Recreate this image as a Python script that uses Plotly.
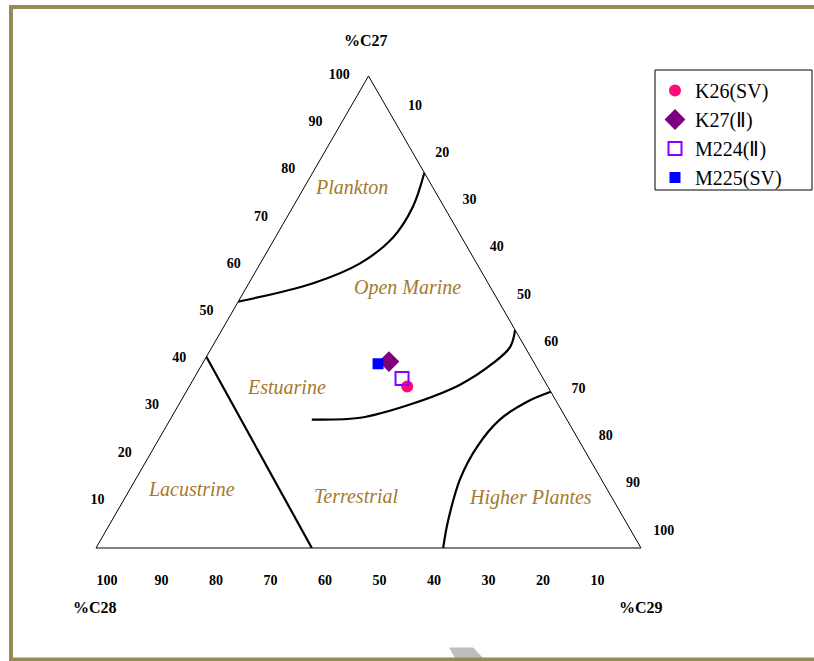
import plotly.graph_objects as go

# ---- data (ternary: a=%C27, b=%C28, c=%C29) ----
tick_values = [10, 20, 30, 40, 50, 60, 70, 80, 90, 100]

sample_names = ["K26(SV)", "K27(Ⅱ)", "M224(Ⅱ)", "M225(SV)"]
sample_c27 = [34.2, 39.5, 35.9, 39.0]
sample_c28 = [25.8, 26.5, 25.9, 28.7]
sample_c29 = [40.0, 34.0, 38.2, 32.2]

# boundary curves
plankton_c27 = [52.2, 56.1, 60.3, 65.8, 72.2, 79.5]
plankton_c28 = [47.8, 32.1, 21.4, 12.6, 5.8, 0.0]
plankton_c29 = [0.0, 11.8, 18.3, 21.6, 22.0, 20.5]

marine_c27 = [27.2, 27.6, 30.4, 34.6, 39.2, 42.6, 46.2]
marine_c28 = [46.8, 37.7, 27.2, 15.9, 7.5, 2.7, 0.0]
marine_c29 = [26.0, 34.7, 42.4, 49.5, 53.3, 54.7, 53.8]

higher_c27 = [0.0, 5.5, 14.6, 21.5, 27.2, 31.0, 33.1]
higher_c28 = [36.3, 32.7, 25.9, 19.3, 12.3, 5.4, 0.0]
higher_c29 = [63.7, 61.8, 59.5, 59.2, 60.5, 63.6, 66.9]

lacustrine_c27 = [40.5, 0.0]
lacustrine_c28 = [59.5, 60.4]
lacustrine_c29 = [0.0, 39.6]

W, H = 814, 661
SERIF = "Liberation Serif, Times New Roman, serif"
fig = go.Figure()

for ca, cb, cc in [(plankton_c27, plankton_c28, plankton_c29),
                   (marine_c27, marine_c28, marine_c29),
                   (higher_c27, higher_c28, higher_c29),
                   (lacustrine_c27, lacustrine_c28, lacustrine_c29)]:
    fig.add_trace(go.Scatterternary(
        a=ca, b=cb, c=cc, mode="lines",
        line=dict(color="black", width=2.2, shape="spline", smoothing=1.0),
        showlegend=False, hoverinfo="skip"))

styles = [
    dict(symbol="circle", size=12, color="#FF0A78", line=dict(width=0)),
    dict(symbol="diamond", size=16, color="#7F007F", line=dict(width=0)),
    dict(symbol="square-open", size=13, color="#8A00FF", line=dict(width=2)),
    dict(symbol="square", size=11, color="#0000FF", line=dict(width=0)),
]
for i, name in enumerate(sample_names):
    fig.add_trace(go.Scatterternary(
        a=[sample_c27[i]], b=[sample_c28[i]], c=[sample_c29[i]],
        mode="markers", name=name, marker=styles[i]))


def axis(ticklen):
    return dict(
        min=0, tickmode="array", tickvals=tick_values,
        ticktext=[str(v) for v in tick_values],
        showgrid=False, showline=True, linecolor="black", linewidth=1,
        ticks="outside", ticklen=ticklen, tickcolor="rgba(0,0,0,0)",
        title=dict(text=""),
        tickfont=dict(family=SERIF, size=14, color="black", weight="bold"),
    )


fig.update_layout(
    width=W, height=H,
    margin=dict(l=0, r=0, t=0, b=0),
    paper_bgcolor="white",
    ternary=dict(
        sum=100,
        bgcolor="white",
        domain=dict(x=[96 / W, 641 / W], y=[112 / H, 586 / H]),
        aaxis=axis(16), baxis=axis(22), caxis=axis(19),
    ),
    legend=dict(
        x=655 / W, y=1 - 71 / H, xanchor="left", yanchor="top",
        borderwidth=0, bgcolor="rgba(0,0,0,0)",
        font=dict(family=SERIF, size=20, color="black"),
        itemsizing="trace", tracegroupgap=0,
    ),
    showlegend=True,
)

# legend frame
fig.add_shape(type="rect", xref="paper", yref="paper",
              x0=655 / W, x1=812 / W, y0=1 - 190 / H, y1=1 - 70 / H,
              line=dict(color="black", width=1), fillcolor="white", layer="below")

title_font = dict(family=SERIF, size=16, color="black", weight="bold")
for txt, px, py in [("%C27", 366, 40), ("%C28", 95, 607), ("%C29", 641, 607)]:
    fig.add_annotation(text=txt, x=px / W, y=1 - py / H, xref="paper", yref="paper",
                       xanchor="center", yanchor="middle",
                       showarrow=False, font=title_font)

region_font = dict(family=SERIF, size=20, color="#A47A2C", style="italic")
for txt, px, py in [("Plankton", 351, 187), ("Open Marine", 407, 287),
                    ("Estuarine", 286, 387), ("Lacustrine", 191, 489),
                    ("Terrestrial", 356, 496), ("Higher Plantes", 530, 497)]:
    fig.add_annotation(text=txt, x=px / W, y=1 - py / H, xref="paper", yref="paper",
                       xanchor="center", yanchor="middle",
                       showarrow=False, font=region_font)

# frame
frame_col = "#968B57"
fig.add_shape(type="line", xref="paper", yref="paper", x0=11 / W, x1=11 / W,
              y0=0, y1=1 - 5 / H, line=dict(color=frame_col, width=4))
fig.add_shape(type="line", xref="paper", yref="paper", x0=9 / W, x1=1,
              y0=1 - 7 / H, y1=1 - 7 / H, line=dict(color=frame_col, width=4))
fig.add_shape(type="line", xref="paper", yref="paper", x0=9 / W, x1=1,
              y0=1 - 659.5 / H, y1=1 - 659.5 / H, line=dict(color=frame_col, width=4))
# watermark fragment
fig.add_shape(type="path", xref="paper", yref="paper",
              path=f"M {449/W},{1-647.5/H} L {473/W},{1-647.5/H} L {483/W},{1-658/H} L {455/W},{1-658/H} Z",
              fillcolor="#BDBDBD", line=dict(width=0), layer="below")

fig.write_html("out.html", config={"displayModeBar": False},
               post_script="document.body.style.margin='0px';document.body.style.overflow='hidden';")
